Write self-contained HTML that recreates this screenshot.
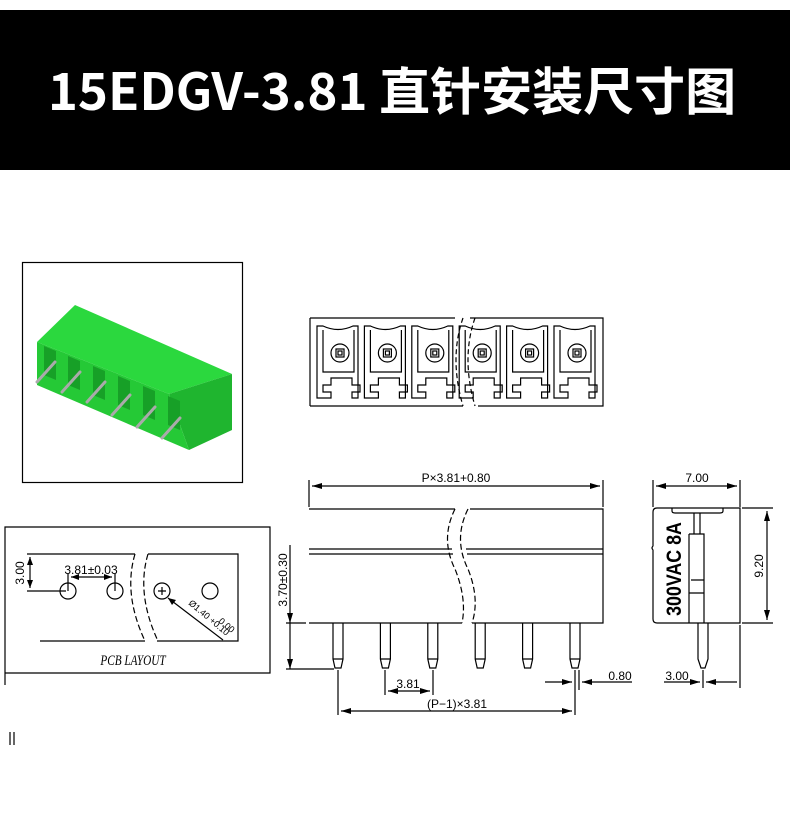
<!DOCTYPE html>
<html><head><meta charset="utf-8"><style>
html,body{margin:0;padding:0;background:#fff;width:790px;height:815px;overflow:hidden}
svg{display:block}
</style></head><body>
<svg width="790" height="815" viewBox="0 0 790 815" xmlns="http://www.w3.org/2000/svg" font-family="Liberation Sans, DejaVu Sans, sans-serif">
<rect x="0" y="10" width="790" height="160" fill="#000"/>
<text x="392" y="110" text-anchor="middle" fill="#fff" font-size="51" font-weight="bold" font-family="Noto Sans CJK SC, Liberation Sans, sans-serif">15EDGV-3.81 直针安装尺寸图</text>

<!-- photo -->
<rect x="22.5" y="262.5" width="220" height="220" fill="#fff" stroke="#000" stroke-width="1.2"/>
<polygon points="37,342 75,305 232,374 169,394" fill="#2bd83e"/>
<polygon points="169,394 232,374 232,430 189,450" fill="#1fb52f"/>
<polygon points="37,342 169,394 189,450 37,385" fill="#25c936"/>
<g fill="#17a027">
<polygon points="44,346 56,351 56,380 44,375"/>
<polygon points="68,356 80,361 80,390 68,385"/>
<polygon points="93,366 105,371 105,400 93,395"/>
<polygon points="118,376 130,381 130,410 118,405"/>
<polygon points="143,386 155,391 155,420 143,415"/>
<polygon points="168,396 180,401 180,430 168,425"/>
</g>
<g stroke="#aaa" stroke-width="3" stroke-linecap="round">
<line x1="37" y1="382" x2="55" y2="362"/><line x1="62" y1="392" x2="80" y2="372"/>
<line x1="87" y1="402" x2="105" y2="382"/><line x1="112" y1="415" x2="130" y2="395"/>
<line x1="137" y1="427" x2="155" y2="407"/><line x1="162" y1="438" x2="180" y2="418"/>
</g>

<g stroke="#000" fill="none" stroke-width="1.2">
<!-- top view -->
<path d="M310 318 H455 M470 318 H603 V406 H478 M463 406 H310 Z M310 318 V406"/>
<path d="M463 318 q-14 40 0 88" stroke-dasharray="5 3"/>
<path d="M475 318 q-14 40 0 88" stroke-dasharray="5 3"/>
<g id="m">
<path d="M317 326 V398 H331 V392 H323 V385 H331 V378 H352 V385 H360 V392 H352 V398 H358 V326 H353 Q338 333 323 326 Z"/>
<path d="M323 330 V372 H354 V330"/>
<circle cx="340" cy="353" r="9"/><rect x="336" y="349" width="8" height="8"/><rect x="338" y="351" width="4" height="4"/>
</g>
<use href="#m" x="47.4"/><use href="#m" x="94.8"/><use href="#m" x="142.2"/><use href="#m" x="189.6"/><use href="#m" x="237"/>

<!-- front view -->
<path d="M309 509 H455 M470 509 H603 V623 H472 M462 623 H309 Z"/>
<path d="M309 549 H452 M466 549 H603 M309 554 H453 M467 554 H603"/>
<path d="M455 509 q-15 30 0 60 q12 30 7 54" stroke-dasharray="6 3"/>
<path d="M468 509 q-15 30 0 60 q12 30 4 54" stroke-dasharray="6 3"/>
<g id="p"><path d="M333 623 V659 L335 668 H341 L343 659 V623 M333 659 H343"/></g>
<use href="#p" x="47.4"/><use href="#p" x="94.8"/><use href="#p" x="142.2"/><use href="#p" x="189.6"/><use href="#p" x="237"/>
<path d="M309 507 V480 M603 507 V480 M312 486 H600"/>
<path d="M290 545 V669 M286 623 H306 M286 669 H334"/>
<path d="M338 670 V715 M575 670 V715 M341 711 H572"/>
<path d="M385 670 V695 M433 670 V695 M388 691 H430"/>
<path d="M579 670 V690 M545 682 H572 M582 682 H632"/>
<!-- side view -->
<path d="M653 512 Q653 508 657 508 H740 V623 H657 Q653 623 653 619 V550 Q651 548 653 546 Z"/>
<path d="M672 508 V511 Q672 513 675 513 H720 Q723 513 723 511 V508"/>
<path d="M694 513 V534 M700 513 V534 M689 534 H704 V623 M689 534 V623 M689 593 H704 M691 580 H704 V593"/>
<path d="M698 623 V659 L701 668 H705 L708 659 V623"/>
<path d="M653 507 V480 M740 507 V480 M656 486 H737"/>
<path d="M742 508 H773 M742 623 H773 M767 511 V620"/>
<path d="M740 625 V688 M703 670 V688 M664 682 H700 M706 682 H737"/>

<!-- PCB -->
<path d="M5 527 H270 V673 H5 Z M5 673 V685"/>
<path d="M40 554 H135 M148 554 H238 V641 H157 M145 641 H40 Z"/>
<path d="M135 554 q-12 40 10 87" stroke-dasharray="6 3"/>
<path d="M148 554 q-12 40 10 87" stroke-dasharray="6 3"/>
<circle cx="68" cy="591" r="8"/><circle cx="115" cy="591" r="8"/><circle cx="162" cy="591" r="8"/><circle cx="210" cy="591" r="8"/>
<path d="M158 591 H166 M162 587 V595"/>
<path d="M27 554 H40 M27 591 H66 M30 557 V588"/>
<path d="M68 574 V591 M115 574 V591 M71 577 H112"/>
<path d="M168 598 L223 640"/>
<path d="M10 732 V745 M14 732 V745"/>
</g>
<g fill="#000">
<polygon points="312,486 322,483 322,489"/><polygon points="600,486 590,483 590,489"/>
<polygon points="290,623 287,613 293,613"/><polygon points="290,669 287,659 293,659"/>
<polygon points="341,711 351,708 351,714"/><polygon points="572,711 562,708 562,714"/>
<polygon points="388,691 398,688 398,694"/><polygon points="430,691 420,688 420,694"/>
<polygon points="572,682 562,679 562,685"/><polygon points="582,682 592,679 592,685"/>
<polygon points="656,486 666,483 666,489"/><polygon points="737,486 727,483 727,489"/>
<polygon points="767,511 764,521 770,521"/><polygon points="767,620 764,610 770,610"/>
<polygon points="700,682 690,679 690,685"/><polygon points="706,682 716,679 716,685"/>
<polygon points="30,557 27,565 33,565"/><polygon points="30,588 27,580 33,580"/>
<polygon points="71,577 79,574 79,580"/><polygon points="112,577 104,574 104,580"/>
<polygon points="168,598 176,600 172,605"/>
</g>
<g font-size="12" fill="#000">
<text x="456" y="482" text-anchor="middle">P×3.81+0.80</text>
<text x="697" y="482" text-anchor="middle">7.00</text>
<text x="457" y="708" text-anchor="middle">(P−1)×3.81</text>
<text x="408" y="688" text-anchor="middle">3.81</text>
<text x="620" y="680" text-anchor="middle">0.80</text>
<text x="677" y="680" text-anchor="middle">3.00</text>
<text x="91" y="574" text-anchor="middle">3.81±0.03</text>
<text transform="translate(287,580) rotate(-90)" text-anchor="middle">3.70±0.30</text>
<text transform="translate(763,566) rotate(-90)" text-anchor="middle">9.20</text>
<text transform="translate(24,573) rotate(-90)" text-anchor="middle">3.00</text>
<text transform="translate(188,604) rotate(40)" font-size="9">Ø1.40 +0.10</text>
<text transform="translate(218,622) rotate(40)" font-size="9">0.00</text>
<text transform="translate(681,569) rotate(-90) scale(0.85,1)" text-anchor="middle" font-size="21" font-weight="bold">300VAC 8A</text>
<text transform="translate(133,665) scale(0.75,1)" text-anchor="middle" font-size="15" font-style="italic" font-family="Liberation Serif, serif">PCB LAYOUT</text>
</g>
</svg>
</body></html>
